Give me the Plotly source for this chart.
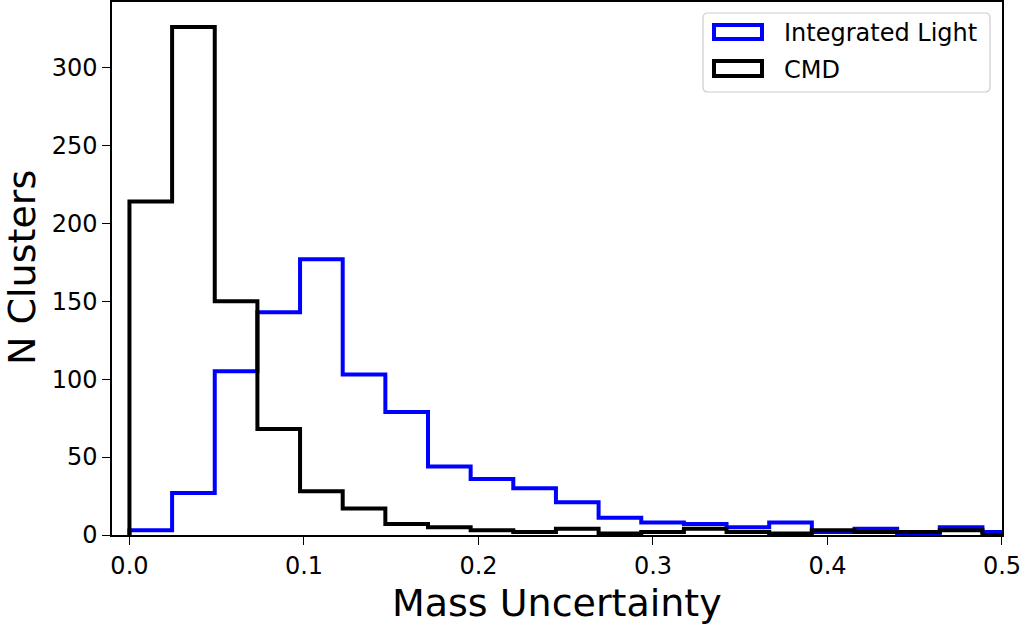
import plotly.graph_objects as go

# ---- data ----
bin_width = 0.02444
il_counts = [3, 27, 105, 143, 177, 103, 79, 44, 36, 30, 21, 11, 8, 7, 5, 8, 2, 4, 1, 5, 2]
cmd_counts = [214, 326, 150, 68, 28, 17, 7, 5, 3, 2, 4, 1, 2, 4, 2, 1, 3, 2, 2, 3, 0]
series_names = ["Integrated Light", "CMD"]
series_colors = ["#0000ff", "#000000"]
x_ticks = [0.0, 0.1, 0.2, 0.3, 0.4, 0.5]
y_ticks = [0, 50, 100, 150, 200, 250, 300]
x_title = "Mass Uncertainty"
y_title = "N Clusters"


def step_outline(counts, width):
    xs, ys = [0.0], [0]
    for i, c in enumerate(counts):
        xs += [i * width, (i + 1) * width]
        ys += [c, c]
    xs.append(len(counts) * width)
    ys.append(0)
    return xs, ys


FONT = "DejaVu Sans"
fig = go.Figure()
for counts, name, color in zip([il_counts, cmd_counts], series_names, series_colors):
    xs, ys = step_outline(counts, bin_width)
    fig.add_trace(go.Scatter(x=xs, y=ys, mode="lines", name=name,
                             line=dict(color=color, width=4), showlegend=False,
                             hoverinfo="skip"))

# plot-area geometry in pixels (for manual legend placement)
L, R, T, B = 112, 18, 2, 89
W, H = 1020, 624
pw, ph = W - L - R, H - T - B


def px(x):
    return (x - L) / pw


def py(y):
    return (H - B - y) / ph


# legend frame (rounded)
x0, x1, y0, y1 = px(703), px(990), py(92), py(13)
rx, ry = 5 / pw, 5 / ph
path = (f"M{x0+rx},{y0} L{x1-rx},{y0} Q{x1},{y0} {x1},{y0+ry} L{x1},{y1-ry} "
        f"Q{x1},{y1} {x1-rx},{y1} L{x0+rx},{y1} Q{x0},{y1} {x0},{y1-ry} "
        f"L{x0},{y0+ry} Q{x0},{y0} {x0+rx},{y0} Z")
shapes = [dict(type="path", xref="paper", yref="paper", path=path,
               line=dict(color="#cccccc", width=1.2), fillcolor="rgba(255,255,255,0.8)",
               layer="above")]
annotations = []
rows = [(25, 39, 33), (61, 76, 70)]
for (top, bot, mid), name, color in zip(rows, series_names, series_colors):
    shapes.append(dict(type="rect", xref="paper", yref="paper",
                       x0=px(714), x1=px(762), y0=py(bot), y1=py(top),
                       line=dict(color=color, width=4), fillcolor="white",
                       layer="above"))
    annotations.append(dict(xref="paper", yref="paper", x=px(782), y=py(mid),
                            text=name, showarrow=False, xanchor="left",
                            yanchor="middle", font=dict(family=FONT, size=24, color="black")))

# axis titles as annotations
annotations.append(dict(xref="paper", yref="paper", x=px(557), y=py(603),
                        text=x_title, showarrow=False, xanchor="center", yanchor="middle",
                        font=dict(family=FONT, size=38, color="black")))
annotations.append(dict(xref="paper", yref="paper", x=px(22), y=py(268),
                        text=y_title, showarrow=False, xanchor="center", yanchor="middle",
                        textangle=-90, font=dict(family=FONT, size=38, color="black")))

fig.update_layout(
    width=W, height=H,
    margin=dict(l=L, r=R, t=T, b=B, autoexpand=False),
    paper_bgcolor="white", plot_bgcolor="white",
    font=dict(family=FONT, color="black"),
    shapes=shapes, annotations=annotations,
    xaxis=dict(range=[-0.01, 0.50001], tickvals=x_ticks, tickformat=".1f",
               ticks="outside", ticklen=8, tickwidth=1.3, tickcolor="black",
               showline=True, linecolor="black", linewidth=1.5, mirror=True,
               showgrid=False, zeroline=False, automargin=False,
               ticklabeloverflow="allow",
               tickfont=dict(family=FONT, size=24, color="black")),
    yaxis=dict(range=[0, 342], tickvals=y_ticks,
               ticks="outside", ticklen=8, tickwidth=1.3, tickcolor="black",
               showline=True, linecolor="black", linewidth=1.5, mirror=True,
               showgrid=False, zeroline=False, automargin=False,
               ticklabeloverflow="allow",
               tickfont=dict(family=FONT, size=24, color="black")),
)

fig.write_html("out.html", config={"displayModeBar": False},
               post_script="document.body.style.margin='0';document.body.style.overflow='hidden';")
